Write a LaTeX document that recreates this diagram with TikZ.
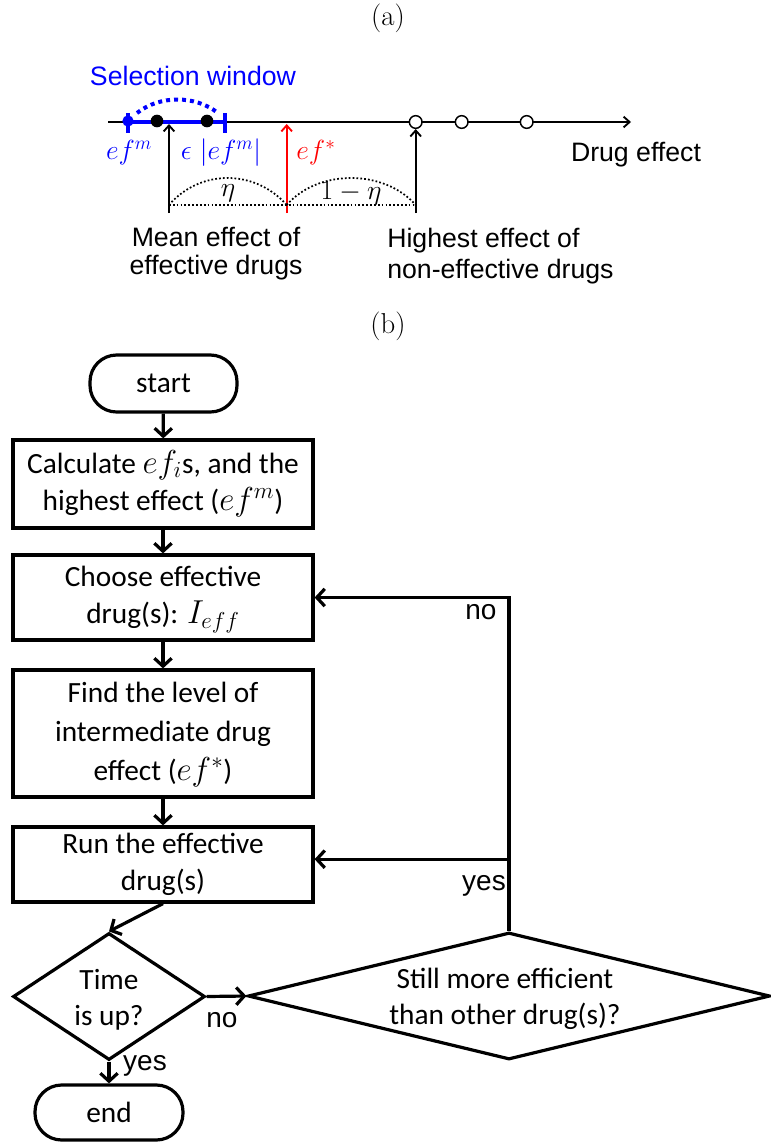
\documentclass[tikz,border=0pt]{standalone}
\usepackage{fontspec}
\newfontfamily\arialf{Liberation Sans}
\newfontfamily\calf{Carlito}
\newcommand{\fm}[1]{{\fontsize{24}{27}\selectfont\smash{$#1$}}}
\usetikzlibrary{arrows.meta,shapes.geometric}
\begin{document}
\begin{tikzpicture}[x=0.75pt,y=-0.75pt,
  barb/.style={-{Straight Barb[length=6pt,width=13pt]}},
  smallbarb/.style={-{Straight Barb[length=4.5pt,width=8pt]}},
  flowline/.style={line width=2.4pt},
  fbox/.style={draw, line width=2.4pt, rectangle, align=center, inner sep=0pt,
    font=\calf\fontsize{22}{28}\selectfont, minimum width=225pt},
  term/.style={draw, line width=2.4pt, rectangle, rounded corners=20pt, inner sep=0pt,
    font=\calf\fontsize{22}{27}\selectfont},
  dia/.style={draw, line width=2.4pt, diamond, inner sep=0pt},
  ftext/.style={align=center, inner sep=0pt, font=\calf\fontsize{22}{27}\selectfont},
  alabel/.style={inner sep=0pt, font=\arialf\fontsize{20}{23}\selectfont},
  ylabel/.style={inner sep=0pt, font=\arialf\fontsize{21}{24}\selectfont},
  mlabel/.style={inner sep=0pt, font=\fontsize{20}{24}\selectfont},
  panel/.style={inner sep=0pt, font=\fontsize{24}{28}\selectfont, scale=0.9, transform shape},
  blackdot/.style={circle, fill=black, inner sep=0pt, minimum size=9.5pt},
  opendot/.style={circle, draw=black, fill=white, line width=1.1pt, inner sep=0pt, minimum size=9.5pt},
  bluedot/.style={circle, fill=blue, inner sep=0pt, minimum size=8.5pt},
  axisline/.style={line width=1.4pt},
  arc/.style={line width=1.3pt, dash pattern=on 1.3pt off 1.6pt}
]
\useasboundingbox (0,0) rectangle (771,1143);
\fill[white] (0,0) rectangle (771,1143);

% ---------- (a) ----------
\node[panel] (la) at (388,18) {(a)};
\node[alabel, text=blue] (selw) at (193,76) {Selection window};

\coordinate (ax0) at (108,122);
\coordinate (ax1) at (631,122);
\draw[axisline, smallbarb] (ax0) -- (ax1);
\node[alabel] (de) at (636,155) {Drug effect};

% blue selection window
\coordinate (bw0) at (128,122);
\coordinate (bw1) at (225,122);
\draw[blue, line width=3pt] (bw0) -- (bw1);
\draw[blue, line width=2.5pt] (128,113) -- (128,133);
\draw[blue, line width=2.5pt] (225,113) -- (225,133);
\node[bluedot] (efm) at (128,121) {};
\draw[blue, line width=3pt, dash pattern=on 3pt off 3pt] (137,113) .. controls (160,95) and (195,95) .. (218,113);

% dots
\node[blackdot] (d1a) at (157,121) {};
\node[blackdot] (d1b) at (207,121) {};
\node[opendot] (o1) at (415.7,122) {};
\node[opendot] (o2) at (461.7,122) {};
\node[opendot] (o3) at (526.7,122) {};

% pointers
\coordinate (pm) at (169,213);
\coordinate (pr) at (286.7,213);
\coordinate (ph) at (415.7,213);
\draw[axisline, smallbarb] (pm) -- (169,124);
\draw[axisline, red, smallbarb] (pr) -- (286.7,124);
\draw[axisline, smallbarb] (ph) -- (o1.south);

% eta arcs
\draw[arc] (169,205) -- (415.7,205);
\draw[arc] (169,205) .. controls (200,169) and (255,169) .. (286.7,205);
\draw[arc] (286.7,205) .. controls (318,169) and (384,169) .. (415.7,205);
\node[mlabel] (eta) at (228,193) {$\eta$};
\node[mlabel] (oneeta) at (351,193) {$1-\eta$};

% labels
\node[mlabel, text=blue] (lefm) at (129,153) {$ef^m$};
\node[mlabel, text=blue] (leps) at (221,153) {$\epsilon\ |ef^m|$};
\node[mlabel, text=red] (lefs) at (316,153) {$ef^*$};
\node[alabel, align=center, font=\arialf\fontsize{20}{21}\selectfont] (mean) at (216,254) {Mean effect of\\effective drugs};
\node[alabel, align=left, anchor=west, font=\arialf\fontsize{20}{23}\selectfont] (high) at (387,256) {Highest effect of\\non-effective drugs};

% ---------- (b) ----------
\node[panel] (lb) at (388,326) {(b)};

\node[term, minimum width=110.25pt, minimum height=42.75pt] (start) at (163.5,383.5) {start};
\node[fbox, minimum height=66pt] (b1) at (163,484) {Calculate \fm{ef_i}s, and the\\highest effect (\fm{ef^m})};
\node[fbox, minimum height=63.75pt] (b2) at (163,597.5) {Choose effective\\drug(s): \fm{I_{eff}}};
\node[fbox, minimum height=95.25pt, font=\calf\fontsize{22}{29}\selectfont] (b3) at (163,733.5) {Find the level of\\intermediate drug\\effect (\fm{ef^*})};
\node[fbox, minimum height=56.25pt] (b4) at (163,864.5) {Run the effective\\drug(s)};
\node[dia, minimum width=144pt, minimum height=95.25pt] (d1) at (109,996.5) {};
\node[ftext] (d1t) at (109,1000) {Time\\is up?};
\node[dia, minimum width=391.5pt, minimum height=95.25pt] (d2) at (509,996) {};
\node[ftext] (d2t) at (505,999) {Still more efficient\\than other drug(s)?};
\node[term, minimum width=111pt, minimum height=41.25pt] (end) at (109,1112.5) {end};

\draw[flowline, barb] (start) -- (b1);
\draw[flowline, barb] (b1) -- (b2);
\draw[flowline, barb] (b2) -- (b3);
\draw[flowline, barb] (b3) -- (b4);
\draw[flowline, barb] (b4.south) -- (d1.north);
\draw[flowline, barb] (d1.east) -- (d2.west);
\draw[flowline, barb] (d1.south) -- (end.north);
\coordinate (loopN) at (d2.north |- b2.east);
\coordinate (b4in) at ([yshift=4pt]b4.east);
\coordinate (loopY) at (d2.north |- b4in);
\draw[flowline, barb] (d2.north) -- (loopN) -- (b2.east);
\draw[flowline, barb] (loopY) -- (b4in);

\node[ylabel] (no1) at (222,1020) {no};
\node[ylabel] (yes1) at (145,1066) {yes};
\node[ylabel] (no2) at (481,612) {no};
\node[ylabel] (yes2) at (484,886) {yes};
\end{tikzpicture}
\end{document}
